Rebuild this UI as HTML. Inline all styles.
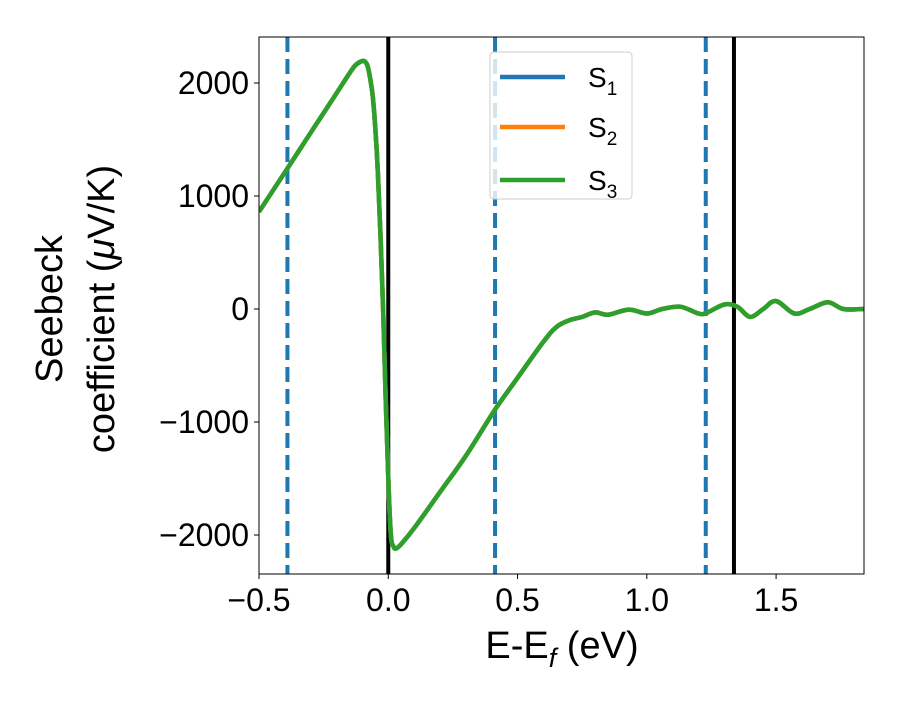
<!DOCTYPE html>
<html><head><meta charset="utf-8"><style>
body{margin:0;background:#fff}
svg text{font-family:"Liberation Sans","DejaVu Sans",sans-serif;fill:#000}
</style></head><body>
<svg id="chart" width="900" height="700" viewBox="0 0 900 700">
<rect width="900" height="700" fill="#fff"/>
<g id="plot"></g>
<g id="axes"></g>
<text x="562" y="658" font-size="38" text-anchor="middle">E-E<tspan font-size="27" dy="9" font-style="italic">f</tspan><tspan dy="-9"> (eV)</tspan></text>
<g transform="translate(62,309) rotate(-90)">
<text x="0" y="0" font-size="38" text-anchor="middle">Seebeck</text>
<text x="0" y="52" font-size="38" text-anchor="middle">coefficient  (<tspan font-style="italic">μ</tspan>V/K)</text>
</g>
<g>
<rect x="490" y="52" width="142" height="147" rx="4" fill="#fff" fill-opacity="0.8" stroke="#ccc" stroke-width="1"/>
<g><line x1="500" y1="77" x2="565" y2="77" stroke="#1f77b4" stroke-width="4.5"/><text x="588" y="87" font-size="28">S<tspan font-size="19" dy="8">1</tspan></text></g>
<g><line x1="500" y1="127" x2="565" y2="127" stroke="#ff7f0e" stroke-width="4.5"/><text x="588" y="137" font-size="28">S<tspan font-size="19" dy="8">2</tspan></text></g>
<g><line x1="500" y1="180" x2="565" y2="180" stroke="#2ca02c" stroke-width="4.5"/><text x="588" y="190" font-size="28">S<tspan font-size="19" dy="8">3</tspan></text></g>
</g>
</svg>
<script>
const energies=[-0.5,-0.4,-0.3,-0.2,-0.14,-0.12,-0.1,-0.09,-0.08,-0.07,-0.06,-0.05,-0.04,-0.03,-0.02,-0.01,0,0.01,0.02,0.03,0.05,0.1,0.2,0.3,0.41,0.5,0.6,0.65,0.7,0.75,0.8,0.85,0.93,1.0,1.06,1.13,1.2,1.23,1.3,1.35,1.4,1.45,1.5,1.57,1.63,1.7,1.76,1.84];
const s3=[860,1210,1560,1910,2120,2170,2195,2190,2150,2040,1880,1600,1200,650,0,-800,-1500,-2000,-2100,-2120,-2080,-1940,-1620,-1300,-900,-610,-290,-160,-100,-70,-30,-50,-5,-40,0,20,-40,-35,40,20,-70,0,70,-40,0,60,0,0];
const s1=s3.slice(), s2=s3.slice();
const dashedLines=[-0.39,0.413,1.228];
const solidLines=[0,1.337];
const xTicks=[-0.5,0,0.5,1.0,1.5];
const xTickLabels=["\u22120.5","0.0","0.5","1.0","1.5"];
const yTicks=[2000,1000,0,-1000,-2000];
const yTickLabels=["2000","1000","0","\u22121000","\u22122000"];
const L=259,R=864,T=37,B=574,xmin=-0.5,xmax=1.84,ymin=-2345,ymax=2407;
const X=v=>L+(v-xmin)/(xmax-xmin)*(R-L);
const Y=v=>B-(v-ymin)/(ymax-ymin)*(B-T);
const NS="http://www.w3.org/2000/svg";
const plot=document.getElementById('plot'),axes=document.getElementById('axes');
function mk(tag,attrs,parent){const e=document.createElementNS(NS,tag);for(const k in attrs)e.setAttribute(k,attrs[k]);parent.appendChild(e);return e;}
function smooth(P){let d='M'+P[0][0].toFixed(1)+','+P[0][1].toFixed(1);
for(let i=0;i<P.length-1;i++){const p0=P[Math.max(0,i-1)],p1=P[i],p2=P[i+1],p3=P[Math.min(P.length-1,i+2)];
const c1=[p1[0]+(p2[0]-p0[0])/6,p1[1]+(p2[1]-p0[1])/6],c2=[p2[0]-(p3[0]-p1[0])/6,p2[1]-(p3[1]-p1[1])/6];
d+=' C'+c1.map(v=>v.toFixed(1)).join(',')+' '+c2.map(v=>v.toFixed(1)).join(',')+' '+p2[0].toFixed(1)+','+p2[1].toFixed(1);}
return d;}
const clip=mk('clipPath',{id:'cp'},plot);mk('rect',{x:L,y:T,width:R-L,height:B-T},clip);
const g=mk('g',{'clip-path':'url(#cp)'},plot);
dashedLines.forEach(v=>{const l=mk('line',{x1:X(v),x2:X(v),y1:T,y2:B,stroke:'#1f77b4','stroke-width':4,'stroke-dasharray':'15 7'},g);

});
solidLines.forEach(v=>{const l=mk('line',{x1:X(v),x2:X(v),y1:T,y2:B,stroke:'#000','stroke-width':4},g);

});
[[s1,'#1f77b4','series-s1'],[s2,'#ff7f0e','series-s2'],[s3,'#2ca02c','series-s3']].forEach(([d,c,n])=>{
const P=energies.map((e,i)=>[X(e),Y(d[i])]);
const p=mk('path',{d:smooth(P),fill:'none',stroke:c,'stroke-width':4.5,'stroke-linejoin':'round'},g);

});
mk('rect',{x:L,y:T,width:R-L,height:B-T,fill:'none',stroke:'#000','stroke-width':1},axes);
xTicks.forEach((v,i)=>{mk('line',{x1:X(v),x2:X(v),y1:B,y2:B+5,stroke:'#000'},axes);
const t=mk('text',{x:X(v),y:B+37,'font-size':32,'text-anchor':'middle'},axes);t.textContent=xTickLabels[i];

});
yTicks.forEach((v,i)=>{mk('line',{x1:L-5,x2:L,y1:Y(v),y2:Y(v),stroke:'#000'},axes);
const t=mk('text',{x:L-10,y:Y(v)+11,'font-size':32,'text-anchor':'end'},axes);t.textContent=yTickLabels[i];

});
</script>
</body></html>
